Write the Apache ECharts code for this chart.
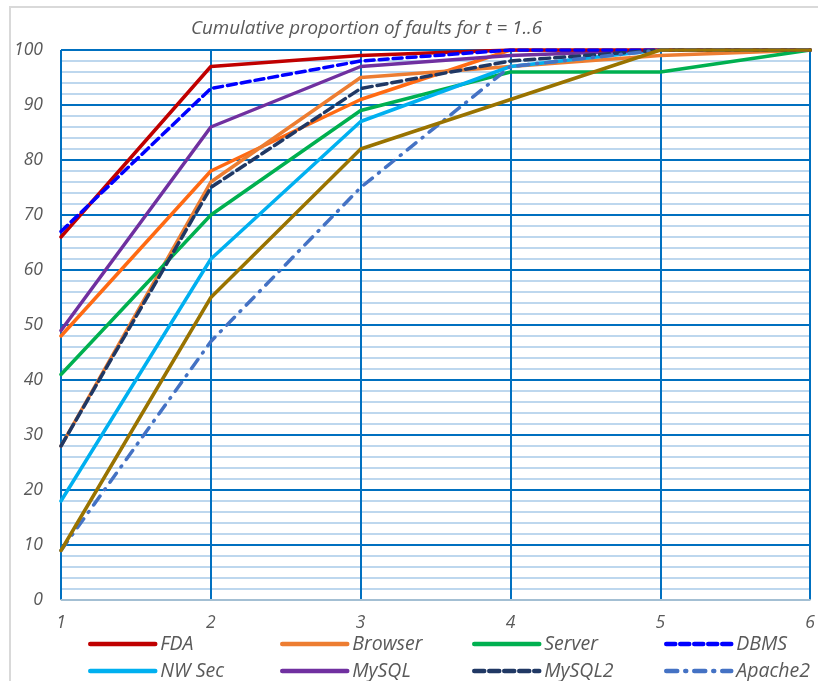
<!DOCTYPE html>
<html>
<head>
    <meta charset="utf-8" />
    <title>Cumulative proportion of faults</title>
    <script src="https://cdn.jsdelivr.net/npm/echarts@6/dist/echarts.min.js"></script>
    <style>
        body { margin: 0; background: #ffffff; }
        #chart { width: 818px; height: 681px; }
    </style>
</head>
<body>
<div id="chart"></div>
<script type="text/javascript">
    // t 取值
    var tSteps = [1, 2, 3, 4, 5, 6];

    // 各系统的累计比例 (%)
    var fda      = [66, 97, 99, 100, 100, 100];
    var browser  = [28, 76, 95, 97, 99, 100];
    var server   = [41, 70, 89, 96, 96, 100];
    var dbms     = [67, 93, 98, 100, 100, 100];
    var nwSec    = [18, 62, 87, 97, 100, 100];
    var mysql    = [49, 86, 97, 99, 100, 100];
    var mysql2   = [28, 75, 93, 98, 100, 100];
    var apache2  = [9, 47, 75, 97, 100, 100];
    // 图例里没有的两条线
    var extraOrange = [48, 78, 91, 100, 100, 100];
    var extraOlive  = [9, 55, 82, 91, 100, 100];

    var yTicks = { min: 0, max: 100, interval: 10 };

    function pairs(vals) {
        var out = [];
        for (var i = 0; i < tSteps.length; i++) {
            out.push([tSteps[i], vals[i]]);
        }
        return out;
    }

    function line(name, vals, color, type) {
        return {
            name: name,
            type: 'line',
            data: pairs(vals),
            symbol: 'none',
            smooth: false,
            lineStyle: { color: color, width: 3.5, type: type || 'solid', cap: 'round' },
            itemStyle: { color: color },
            emphasis: { disabled: true }
        };
    }

    var fontName = 'Open Sans';
    var labelFont = { color: '#595959', fontStyle: 'italic', fontFamily: fontName, fontSize: 17.5 };

    // 每个图例单独放置，排成两行四列
    var legendNames = ['FDA', 'Browser', 'Server', 'DBMS', 'NW Sec', 'MySQL', 'MySQL2', 'Apache2'];
    var legends = [];
    for (var k = 0; k < legendNames.length; k++) {
        legends.push({
            data: [legendNames[k]],
            left: 83 + (k % 4) * 192,
            top: k < 4 ? 629 : 656,
            itemWidth: 65,
            itemHeight: 16,
            itemGap: 0,
            selectedMode: false,
            itemStyle: { opacity: 0 },
            lineStyle: { width: 4.5, cap: 'round' },
            textStyle: { color: '#595959', fontStyle: 'italic', fontFamily: fontName, fontSize: 19.5, padding: [0, 0, 0, 0] }
        });
    }

    var myChart = echarts.init(document.getElementById('chart'), null, { renderer: 'canvas' });
    var option = {
        backgroundColor: '#ffffff',
        animation: false,
        title: {
            text: 'Cumulative proportion of faults for t = 1..6',
            left: 186,
            top: 14,
            textStyle: { color: '#595959', fontStyle: 'italic', fontWeight: 'normal', fontFamily: fontName, fontSize: 18.8 }
        },
        graphic: [{
            type: 'rect',
            shape: { x: 10, y: 7, width: 830, height: 700 },
            style: { fill: 'none', stroke: '#D9D9D9', lineWidth: 2 },
            silent: true,
            z: -1
        }],
        legend: legends,
        grid: { left: 61, right: 7, top: 50, bottom: 81, containLabel: false },
        xAxis: {
            type: 'value',
            min: 1,
            max: 6,
            interval: 1,
            axisLine: { show: true, lineStyle: { color: '#D9D9D9', width: 1.5 } },
            axisTick: { show: false },
            axisLabel: Object.assign({ margin: 14 }, labelFont),
            splitLine: { show: true, lineStyle: { color: '#0070C0', width: 2 } }
        },
        yAxis: {
            type: 'value',
            min: yTicks.min,
            max: yTicks.max,
            interval: yTicks.interval,
            axisLine: { show: false },
            axisTick: { show: false },
            axisLabel: Object.assign({ margin: 18 }, labelFont),
            splitLine: { show: true, lineStyle: { color: '#0070C0', width: 2 } },
            minorTick: { show: false, splitNumber: 5 },
            minorSplitLine: { show: true, lineStyle: { color: '#BDD7EE', width: 2 } }
        },
        series: [
            line('Series9', extraOrange, '#FF6A13'),
            line('Browser', browser, '#ED7D31'),
            line('Server', server, '#00B050'),
            line('NW Sec', nwSec, '#00B0F0'),
            line('MySQL', mysql, '#7030A0'),
            line('FDA', fda, '#C00000'),
            line('DBMS', dbms, '#0000FF', [9, 5]),
            line('MySQL2', mysql2, '#203864', [10, 5]),
            line('Apache2', apache2, '#4472C4', [11, 8, 1, 8]),
            line('Series10', extraOlive, '#997300')
        ]
    };
    myChart.setOption(option);
</script>
</body>
</html>
